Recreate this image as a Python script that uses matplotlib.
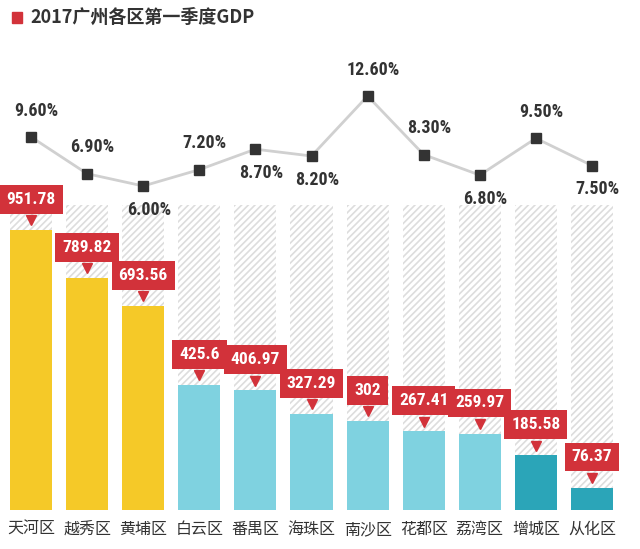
import matplotlib
matplotlib.use("Agg")
import matplotlib.pyplot as plt
import matplotlib.transforms as mtransforms
from matplotlib.patches import Rectangle

plt.rcParams['font.family'] = ['Noto Sans CJK SC', 'DejaVu Sans']
plt.rcParams['hatch.linewidth'] = 1.2

# 数据
districts = ["天河区", "越秀区", "黄埔区", "白云区", "番禺区", "海珠区",
             "南沙区", "花都区", "荔湾区", "增城区", "从化区"]
gdp = [951.78, 789.82, 693.56, 425.6, 406.97, 327.29, 302, 267.41, 259.97, 185.58, 76.37]
gdp_labels = ["951.78", "789.82", "693.56", "425.6", "406.97", "327.29",
              "302", "267.41", "259.97", "185.58", "76.37"]
growth = [9.60, 6.90, 6.00, 7.20, 8.70, 8.20, 12.60, 8.30, 6.80, 9.50, 7.50]
growth_above = [True, True, False, True, False, False, True, True, False, True, False]
bar_colors = ["#F5C928"] * 3 + ["#7FD2E0"] * 6 + ["#2BA5B8"] * 2

num_font = ['Roboto Condensed', 'DejaVu Sans']

fig = plt.figure(figsize=(6.4, 5.49), dpi=100)
ax = fig.add_axes([0, (549 - 510) / 549, 1, 510 / 549])
x = list(range(len(districts)))

# 背景斜线柱
hatch_top = max(gdp) * 1.09
ax.bar(x, [hatch_top] * len(x), width=0.75, color="white", edgecolor="#dddddd",
       hatch="/////", linewidth=0, zorder=1)
ax.bar(x, gdp, width=0.75, color=bar_colors, linewidth=0, zorder=2)

ax.set_xlim(-0.553, 10.856)
ax.set_ylim(0, max(gdp) * 510 / 280)
ax.set_xticks(x)
ax.set_xticklabels(districts, fontsize=11.5, color="#333333")
ax.tick_params(axis="x", length=0, pad=8)
ax.set_yticks([])
for s in ax.spines.values():
    s.set_visible(False)

# 红色数值标签
tri_trans = mtransforms.offset_copy(ax.transData, fig=fig, y=7, units='points')
for i, v in enumerate(gdp):
    ax.annotate(gdp_labels[i], xy=(i, v), xytext=(0, 22), textcoords="offset points",
                ha="center", va="center", color="white", fontsize=12.5, fontweight="bold",
                family=num_font, zorder=5,
                bbox=dict(boxstyle="square,pad=0.4", fc="#D2323A", ec="none"))
    ax.plot(i, v, marker="v", color="#D2323A", markersize=7, transform=tri_trans,
            zorder=5, clip_on=False)

# 增速折线
ax2 = ax.twinx()
ax2.set_ylim(6.0 - 324 / 13.636, 6.0 - 324 / 13.636 + 510 / 13.636)
ax2.plot(x, growth, color="#d0d0d0", linewidth=2, zorder=3)
ax2.plot(x, growth, linestyle="none", marker="s", markersize=7, color="#333333", zorder=4)
ax2.set_yticks([])
for s in ax2.spines.values():
    s.set_visible(False)
for i, g in enumerate(growth):
    dy = 19 if growth_above[i] else -17
    ax2.annotate(f"{g:.2f}%", xy=(i, g), xytext=(4, dy), textcoords="offset points",
                 ha="center", va="center", color="#333333", fontsize=13,
                 fontweight="bold", family=num_font)

# 标题
fig.patches.append(Rectangle((12 / 640, 1 - 23 / 549), 10 / 640, 11 / 549,
                             transform=fig.transFigure, color="#D2323A"))
fig.text(30 / 640, 1 - 17 / 549, "2017广州各区第一季度GDP", fontsize=13,
         fontweight="bold", color="#333333", va="center", ha="left")

fig.savefig("out.png", dpi=100, facecolor="white")
